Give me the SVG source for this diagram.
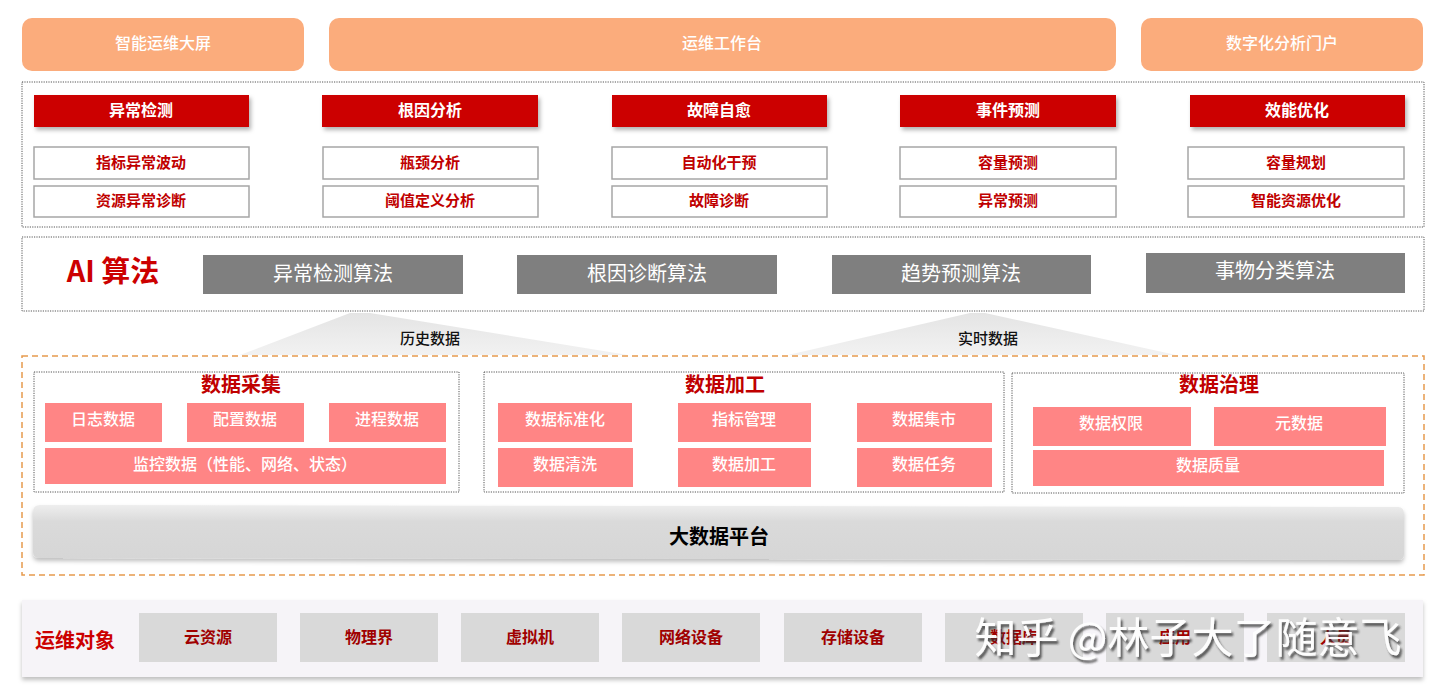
<svg xmlns="http://www.w3.org/2000/svg" width="1440" height="692" viewBox="0 0 1440 692">
<defs>
<style>
text{font-family:"Noto Sans CJK SC","Noto Sans",sans-serif;text-anchor:middle;dominant-baseline:central;transform:translateY(-2px)}
.top{fill:#FBAC7C}
.topt{fill:#fff;font-size:16px;font-weight:500}
.dot{fill:none;stroke:#555;stroke-width:1;stroke-dasharray:1.2 1.2}
.hdr{fill:#CC0000;filter:url(#sh)}
.hdrt{fill:#fff;font-size:16px;font-weight:700}
.sub{fill:#fff;stroke:#A6A6A6;stroke-width:1.5}
.subt{fill:#C00000;font-size:15px;font-weight:700}
.alg{fill:#7F7F7F}
.algt{fill:#fff;font-size:20px}
.pk{fill:#FF8585}
.pkt{fill:#fff;font-size:16px;font-weight:500}
.sect{fill:#C00000;font-size:20px;font-weight:700}
.obj{fill:#D9D9D9}
.objt{fill:#A00000;font-size:16px;font-weight:700}
</style>
<filter id="sh" x="-5%" y="-20%" width="115%" height="160%"><feDropShadow dx="2" dy="3" stdDeviation="2" flood-color="#000" flood-opacity="0.3"/></filter>
<filter id="sh2" x="-2%" y="-20%" width="104%" height="160%"><feDropShadow dx="0" dy="3" stdDeviation="2" flood-color="#000" flood-opacity="0.25"/></filter>
<filter id="wm" x="-5%" y="-20%" width="110%" height="150%"><feDropShadow dx="2" dy="3" stdDeviation="1" flood-color="#333" flood-opacity="0.85"/></filter>
<linearGradient id="tri" x1="0" y1="0" x2="0" y2="1"><stop offset="0" stop-color="#E4E4E4"/><stop offset="1" stop-color="#F2F2F2"/></linearGradient>
<linearGradient id="plat" x1="0" y1="0" x2="0" y2="1"><stop offset="0" stop-color="#EEEEEE"/><stop offset="0.3" stop-color="#DADADA"/><stop offset="1" stop-color="#D6D6D6"/></linearGradient>
</defs>
<rect width="1440" height="692" fill="#fff"/>

<g id="portals">
<rect class="top" x="22" y="18" width="282" height="53" rx="10"/>
<text class="topt" x="163" y="44">智能运维大屏</text>
<rect class="top" x="329" y="18" width="787" height="53" rx="10"/>
<text class="topt" x="722" y="44">运维工作台</text>
<rect class="top" x="1141" y="18" width="282" height="53" rx="10"/>
<text class="topt" x="1282" y="44">数字化分析门户</text>
</g>

<g id="scenarios">
<rect class="dot" x="22" y="82" width="1402" height="145"/>
<g id="col1">
<rect class="hdr" x="34" y="95" width="215" height="32"/><text class="hdrt" x="141" y="111">异常检测</text>
<rect class="sub" x="34" y="147" width="215" height="32"/><text class="subt" x="141" y="163">指标异常波动</text>
<rect class="sub" x="34" y="186" width="215" height="31"/><text class="subt" x="141" y="201">资源异常诊断</text>
</g>
<g id="col2">
<rect class="hdr" x="322" y="95" width="216" height="32"/><text class="hdrt" x="430" y="111">根因分析</text>
<rect class="sub" x="323" y="147" width="215" height="32"/><text class="subt" x="430" y="163">瓶颈分析</text>
<rect class="sub" x="323" y="186" width="215" height="31"/><text class="subt" x="430" y="201">阈值定义分析</text>
</g>
<g id="col3">
<rect class="hdr" x="612" y="95" width="215" height="32"/><text class="hdrt" x="719" y="111">故障自愈</text>
<rect class="sub" x="612" y="147" width="215" height="32"/><text class="subt" x="719" y="163">自动化干预</text>
<rect class="sub" x="612" y="186" width="215" height="31"/><text class="subt" x="719" y="201">故障诊断</text>
</g>
<g id="col4">
<rect class="hdr" x="900" y="95" width="216" height="32"/><text class="hdrt" x="1008" y="111">事件预测</text>
<rect class="sub" x="900" y="147" width="216" height="32"/><text class="subt" x="1008" y="163">容量预测</text>
<rect class="sub" x="900" y="186" width="216" height="31"/><text class="subt" x="1008" y="201">异常预测</text>
</g>
<g id="col5">
<rect class="hdr" x="1190" y="95" width="215" height="32"/><text class="hdrt" x="1297" y="111">效能优化</text>
<rect class="sub" x="1188" y="147" width="216" height="32"/><text class="subt" x="1296" y="163">容量规划</text>
<rect class="sub" x="1188" y="186" width="216" height="31"/><text class="subt" x="1296" y="201">智能资源优化</text>
</g>
</g>

<g id="ai">
<rect class="dot" x="22" y="237" width="1402" height="74"/>
<text x="113" y="271" fill="#CC0000" font-size="29" font-weight="700">AI 算法</text>
<rect class="alg" x="203" y="255" width="260" height="39"/><text class="algt" x="333" y="274">异常检测算法</text>
<rect class="alg" x="517" y="255" width="260" height="39"/><text class="algt" x="647" y="274">根因诊断算法</text>
<rect class="alg" x="832" y="255" width="259" height="39"/><text class="algt" x="961" y="274">趋势预测算法</text>
<rect class="alg" x="1146" y="253" width="259" height="40"/><text class="algt" x="1275" y="271">事物分类算法</text>
</g>

<g id="connectors">
<polygon points="240,355 350,313 370,313 628,355" fill="url(#tri)"/>
<polygon points="788,355 970,313 985,313 1176,355" fill="url(#tri)"/>
<text x="430" y="339" fill="#111" font-size="15" font-weight="500">历史数据</text>
<text x="988" y="339" fill="#111" font-size="15" font-weight="500">实时数据</text>
</g>

<g id="dataplatform">
<rect x="22" y="356" width="1402" height="219" fill="none" stroke="#E69B4E" stroke-width="1.5" stroke-dasharray="6 4"/>
<g id="collect">
<rect class="dot" x="34" y="372" width="425" height="120"/>
<text class="sect" x="241" y="385">数据采集</text>
<rect class="pk" x="45" y="403" width="117" height="39"/><text class="pkt" x="103" y="420">日志数据</text>
<rect class="pk" x="187" y="403" width="117" height="39"/><text class="pkt" x="245" y="420">配置数据</text>
<rect class="pk" x="329" y="403" width="117" height="39"/><text class="pkt" x="387" y="420">进程数据</text>
<rect class="pk" x="45" y="448" width="401" height="36"/><text class="pkt" x="245" y="465">监控数据（性能、网络、状态）</text>
</g>
<g id="process">
<rect class="dot" x="484" y="372" width="520" height="120"/>
<text class="sect" x="725" y="385">数据加工</text>
<rect class="pk" x="498" y="403" width="134" height="39"/><text class="pkt" x="565" y="420">数据标准化</text>
<rect class="pk" x="678" y="403" width="133" height="39"/><text class="pkt" x="744" y="420">指标管理</text>
<rect class="pk" x="857" y="403" width="135" height="39"/><text class="pkt" x="924" y="420">数据集市</text>
<rect class="pk" x="498" y="448" width="135" height="39"/><text class="pkt" x="565" y="465">数据清洗</text>
<rect class="pk" x="678" y="448" width="133" height="39"/><text class="pkt" x="744" y="465">数据加工</text>
<rect class="pk" x="857" y="448" width="135" height="39"/><text class="pkt" x="924" y="465">数据任务</text>
</g>
<g id="govern">
<rect class="dot" x="1012" y="373" width="392" height="120"/>
<text class="sect" x="1219" y="385">数据治理</text>
<rect class="pk" x="1033" y="407" width="158" height="39"/><text class="pkt" x="1111" y="424">数据权限</text>
<rect class="pk" x="1214" y="407" width="172" height="39"/><text class="pkt" x="1299" y="424">元数据</text>
<rect class="pk" x="1033" y="450" width="351" height="36"/><text class="pkt" x="1208" y="466">数据质量</text>
</g>
<g id="bigdata">
<path d="M33,512 Q33,505 40,505 L1398,507 Q1404,507 1404,514 L1404,554 Q1404,560 1398,560 L40,558 Q33,558 33,552 Z" fill="url(#plat)" filter="url(#sh2)"/>
<text x="719" y="537" fill="#000" font-size="20" font-weight="700">大数据平台</text>
</g>
</g>

<g id="objects">
<rect x="22" y="600" width="1401" height="77" fill="#F6F4F8" filter="url(#sh2)"/>
<text x="75" y="641" fill="#CC0000" font-size="20" font-weight="700">运维对象</text>
<rect class="obj" x="139" y="613" width="138" height="49"/><text class="objt" x="208" y="638">云资源</text>
<rect class="obj" x="300" y="613" width="138" height="49"/><text class="objt" x="369" y="638">物理界</text>
<rect class="obj" x="461" y="613" width="138" height="49"/><text class="objt" x="530" y="638">虚拟机</text>
<rect class="obj" x="622" y="613" width="138" height="49"/><text class="objt" x="691" y="638">网络设备</text>
<rect class="obj" x="784" y="613" width="138" height="49"/><text class="objt" x="853" y="638">存储设备</text>
<rect class="obj" x="945" y="613" width="138" height="49"/><text class="objt" x="1014" y="638">数据库</text>
<rect class="obj" x="1106" y="613" width="138" height="49"/><text class="objt" x="1175" y="638">应用</text>
<rect class="obj" x="1267" y="613" width="138" height="49"/><text class="objt" x="1336" y="638">人员</text>
</g>

<text x="1188" y="636" fill="#fff" font-size="42" filter="url(#wm)" opacity="0.95">知乎 @林子大了随意飞</text>
</svg>
